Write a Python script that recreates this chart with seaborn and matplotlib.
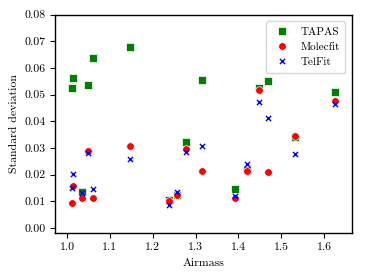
import matplotlib
matplotlib.use("Agg")
import matplotlib.pyplot as plt
import seaborn as sns

# airmass of each observation
airmass = [1.011, 1.013, 1.035, 1.050, 1.061, 1.146, 1.237, 1.256,
           1.278, 1.316, 1.392, 1.420, 1.447, 1.470, 1.532, 1.626]

# standard deviation of the corrected spectra
tapas = [0.0526, 0.0561, 0.0136, 0.0538, 0.0639, 0.0679, 0.0104, 0.0122,
         0.0321, 0.0554, 0.0145, 0.0219, 0.0526, 0.0553, 0.0343, 0.0509]
molecfit = [0.0095, 0.0159, 0.0111, 0.0290, 0.0111, 0.0309, 0.0101, 0.0124,
            0.0296, 0.0214, 0.0112, 0.0213, 0.0516, 0.0211, 0.0345, 0.0475]
telfit = [0.0149, 0.0201, 0.0130, 0.0280, 0.0146, 0.0259, 0.0086, 0.0133,
          0.0285, 0.0309, 0.0120, 0.0241, 0.0474, 0.0412, 0.0279, 0.0464]

plt.rcParams["font.family"] = ["cmr10", "DejaVu Serif"]
plt.rcParams["axes.formatter.use_mathtext"] = True
plt.rcParams["font.size"] = 8.5
plt.rcParams["axes.linewidth"] = 1.0

fig = plt.figure(figsize=(3.67, 2.78), dpi=100)
ax = fig.add_axes([0.150, 0.161, 0.809, 0.786])

sns.scatterplot(x=airmass, y=tapas, color="green", marker="s", s=26, linewidth=0.5, label="TAPAS", ax=ax)
sns.scatterplot(x=airmass, y=molecfit, color="red", marker="o", s=30, linewidth=0.5, label="Molecfit", ax=ax)
sns.scatterplot(x=airmass, y=telfit, color="blue", marker="x", s=14, linewidth=1.0, label="TelFit", ax=ax)

ax.set_xlim(0.972, 1.665)
ax.set_ylim(-0.002, 0.08)
ax.set_xticks([1.0, 1.1, 1.2, 1.3, 1.4, 1.5, 1.6])
ax.set_yticks([0.00, 0.01, 0.02, 0.03, 0.04, 0.05, 0.06, 0.07, 0.08])
ax.set_yticklabels(["%.2f" % v for v in ax.get_yticks()])
ax.set_xticklabels(["%.1f" % v for v in ax.get_xticks()])
ax.set_xlabel("Airmass")
ax.set_ylabel("Standard deviation")
ax.legend(loc="upper right", fontsize=8, handlelength=2.0, handletextpad=0.6,
          borderaxespad=0.6, borderpad=0.5)
# push legend markers toward the middle of the handle area
for h in ax.get_legend().legend_handles:
    h.set_offsets([[8, 3]]) if hasattr(h, "set_offsets") else None

plt.savefig("out.png", dpi=100)
